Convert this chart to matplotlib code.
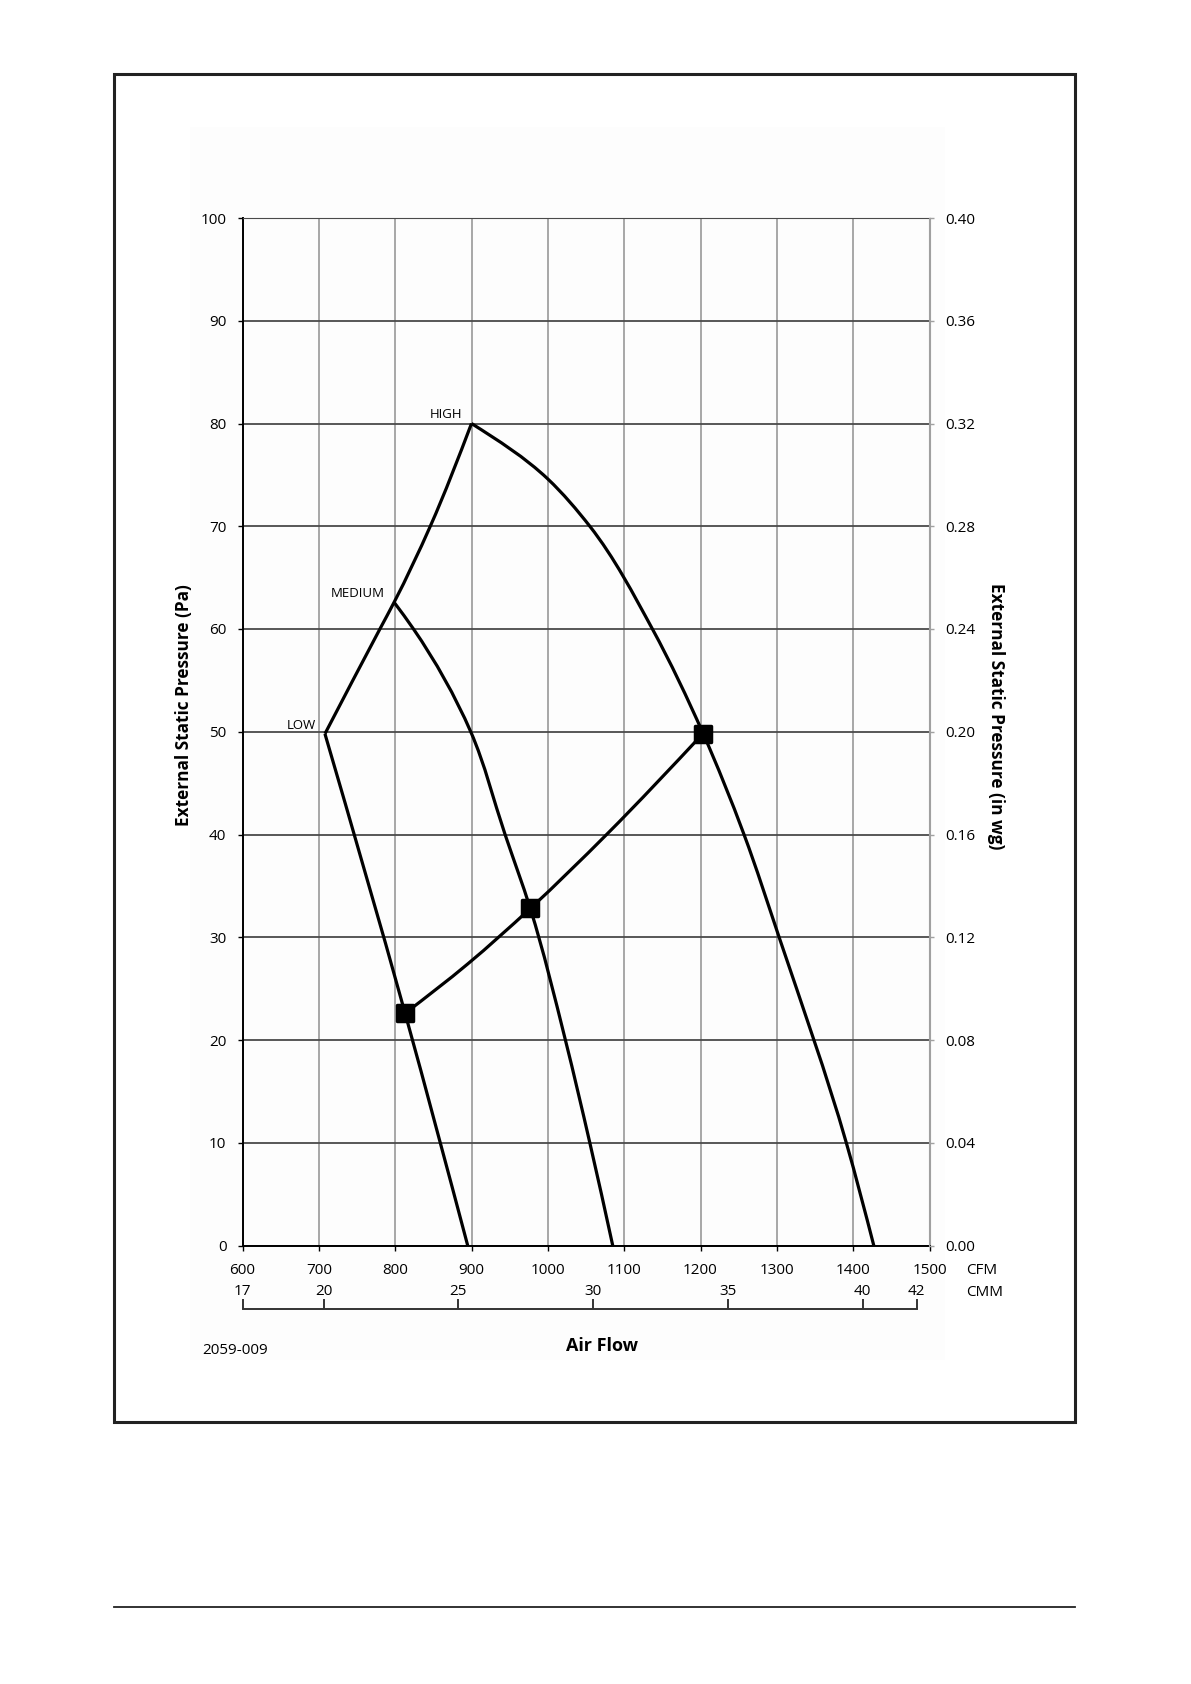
import matplotlib
matplotlib.use("Agg")
import matplotlib.pyplot as plt
import numpy as np
from matplotlib.markers import MarkerStyle
from matplotlib.patches import Rectangle, PathPatch
from matplotlib.path import Path
from matplotlib.lines import Line2D

plt.rcParams["font.family"] = ["Open Sans", "DejaVu Sans"]

# fan curves (CFM, Pa)
high_cfm = [900, 1000, 1055, 1137, 1203, 1257, 1303, 1391, 1427]
high_pa = [80, 74.6, 70, 60, 49.9, 40, 30, 10, 0]
med_cfm = [798.6, 824, 899, 944, 977, 1023, 1055, 1085]
med_pa = [62.6, 60, 50, 40, 32.8, 20, 10, 0]
low_cfm = [708, 813, 895]
low_pa = [49.8, 22.6, 0]
# line joining the top of each curve
peak_cfm = [708, 780, 798.6, 846, 900]
peak_pa = [49.8, 60, 62.6, 70, 80]
# system line and its operating points
sys_cfm = [813, 895, 977, 1077, 1203]
sys_pa = [22.6, 27.4, 32.8, 40, 49.8]
op_cfm = [813, 977, 1203]
op_pa = [22.6, 32.8, 49.8]

speed_names = ["HIGH", "MEDIUM", "LOW"]
speed_cfm = [900, 798.6, 708]
speed_pa = [80, 62.6, 49.8]

cfm_ticks = [600, 700, 800, 900, 1000, 1100, 1200, 1300, 1400, 1500]
cmm_ticks = [17, 20, 25, 30, 35, 40, 42]
pa_ticks = [0, 10, 20, 30, 40, 50, 60, 70, 80, 90, 100]
inwg_ticks = [0, 0.04, 0.08, 0.12, 0.16, 0.20, 0.24, 0.28, 0.32, 0.36, 0.40]
CFM_PER_CMM = 35.3147

W, H = 1191, 1684
fig = plt.figure(figsize=(W / 100, H / 100), dpi=100)

def fx(px):
    return px / W

def fy(py):
    return 1 - py / H

left, right, top, bottom = 242.5, 929.5, 218, 1245.5
SX = (right - left) / 900.0   # px per CFM
SY = (bottom - top) / 100.0   # px per Pa

def smooth_path(xs, ys):
    # smoothed line through the read points: cubic bezier segments,
    # chord-length parameter measured on screen
    p = np.column_stack([xs, ys]).astype(float)
    n = len(p)
    seg = np.diff(p, axis=0)
    h = np.hypot(seg[:, 0] * SX, seg[:, 1] * SY)
    d = seg / h[:, None]
    m = np.zeros_like(p)
    if n == 2:
        m[0] = m[1] = d[0]
    else:
        for i in range(1, n - 1):
            m[i] = (h[i] * d[i - 1] + h[i - 1] * d[i]) / (h[i - 1] + h[i])
        m[0] = (3 * d[0] - m[1]) / 2
        m[-1] = (3 * d[-1] - m[-2]) / 2
    verts = [tuple(p[0])]
    codes = [Path.MOVETO]
    for i in range(n - 1):
        c1 = p[i] + m[i] * h[i] / 3
        c2 = p[i + 1] - m[i + 1] * h[i] / 3
        verts += [tuple(c1), tuple(c2), tuple(p[i + 1])]
        codes += [Path.CURVE4] * 3
    return Path(verts, codes)

# outer frame and footer line
fig.add_artist(Rectangle((fx(114), fy(1422)), fx(1075) - fx(114), fy(74) - fy(1422),
                         fill=False, lw=2.2, ec="#222222", transform=fig.transFigure))
fig.add_artist(Rectangle((fx(190), fy(1360)), fx(945) - fx(190), fy(127) - fy(1360),
                         fill=True, lw=0, fc="#fdfdfd", transform=fig.transFigure, zorder=-1))
fig.add_artist(Line2D([fx(114), fx(1075)], [fy(1607), fy(1607)], lw=1.3, color="#222222",
                      transform=fig.transFigure))

ax = fig.add_axes([fx(left), fy(bottom), fx(right) - fx(left), fy(top) - fy(bottom)])
ax.set_facecolor("none")
ax.set_xlim(600, 1500)
ax.set_ylim(0, 100)
ax.set_xticks(cfm_ticks)
ax.set_yticks(pa_ticks)
for t in cfm_ticks:
    ax.axvline(t, color="#a0a0a0", lw=1.3, zorder=1)
for t in pa_ticks:
    ax.axhline(t, color="#4a4a4a", lw=1.3, zorder=1)
ax.spines["right"].set_color("#a0a0a0")
ax.spines["top"].set_color("#4a4a4a")
ax.spines["left"].set_linewidth(1.4)
ax.spines["bottom"].set_linewidth(1.4)
ax.tick_params(axis="both", direction="out", length=3.6, width=1, labelsize=11, pad=8)
ax.tick_params(axis="x", pad=9)

lw = 2.3
for xs, ys in [(high_cfm, high_pa), (med_cfm, med_pa), (low_cfm, low_pa),
               (peak_cfm, peak_pa), (sys_cfm, sys_pa)]:
    ax.add_patch(PathPatch(smooth_path(xs, ys), fill=False, ec="black", lw=lw,
                           joinstyle="round", capstyle="butt", zorder=3))
ax.plot(op_cfm, op_pa, linestyle="none", marker=MarkerStyle("s", joinstyle="round"),
        markersize=12, mfc="black", mec="black", mew=2.5, zorder=4)

for name, x, y in zip(speed_names, speed_cfm, speed_pa):
    ax.annotate(name, (x, y), xytext=(-9, 5), textcoords="offset pixels",
                ha="right", va="baseline", fontsize=9.5)

ax.set_ylabel("External Static Pressure (Pa)", fontsize=12.4, fontweight="bold")
ax.yaxis.set_label_coords(-0.072, 0.526)

ax2 = ax.twinx()
ax2.set_ylim(0, 0.40)
ax2.set_yticks(inwg_ticks)
ax2.set_yticklabels(["%.2f" % v for v in inwg_ticks])
ax2.tick_params(axis="y", direction="out", length=3.6, width=1, color="#a0a0a0", labelsize=11, pad=8)
for s in ["left", "top", "bottom"]:
    ax2.spines[s].set_visible(False)
ax2.spines["right"].set_color("#a0a0a0")
ax2.set_ylabel("External Static Pressure (in wg)", fontsize=12.4, fontweight="bold",
               rotation=-90, va="center")
ax2.yaxis.set_label_coords(1.097, 0.515)

# CMM scale below the CFM axis
ax3 = fig.add_axes([fx(left), fy(1310), fx(right) - fx(left), 0.0005])
ax3.set_facecolor("none")
ax3.set_xlim(600 / CFM_PER_CMM, 1500 / CFM_PER_CMM)
ax3.set_yticks([])
for s in ["left", "right", "bottom"]:
    ax3.spines[s].set_visible(False)
ax3.spines["top"].set_bounds(17, 42)
ax3.spines["top"].set_linewidth(1.4)
ax3.spines["top"].set_color("#333333")
ax3.xaxis.tick_top()
ax3.set_xticks(cmm_ticks)
ax3.tick_params(axis="x", direction="out", length=7, width=1.4, color="#333333", labelsize=11, pad=0.5)

fig.text(fx(966), fy(1270), "CFM", fontsize=11, ha="left", va="center")
fig.text(fx(966), fy(1292), "CMM", fontsize=11, ha="left", va="center")
fig.text(fx(602), fy(1346), "Air Flow", fontsize=13, fontweight="bold", ha="center", va="center")
fig.text(fx(202), fy(1350), "2059-009", fontsize=11, ha="left", va="center")

fig.savefig("out.png", dpi=100)
